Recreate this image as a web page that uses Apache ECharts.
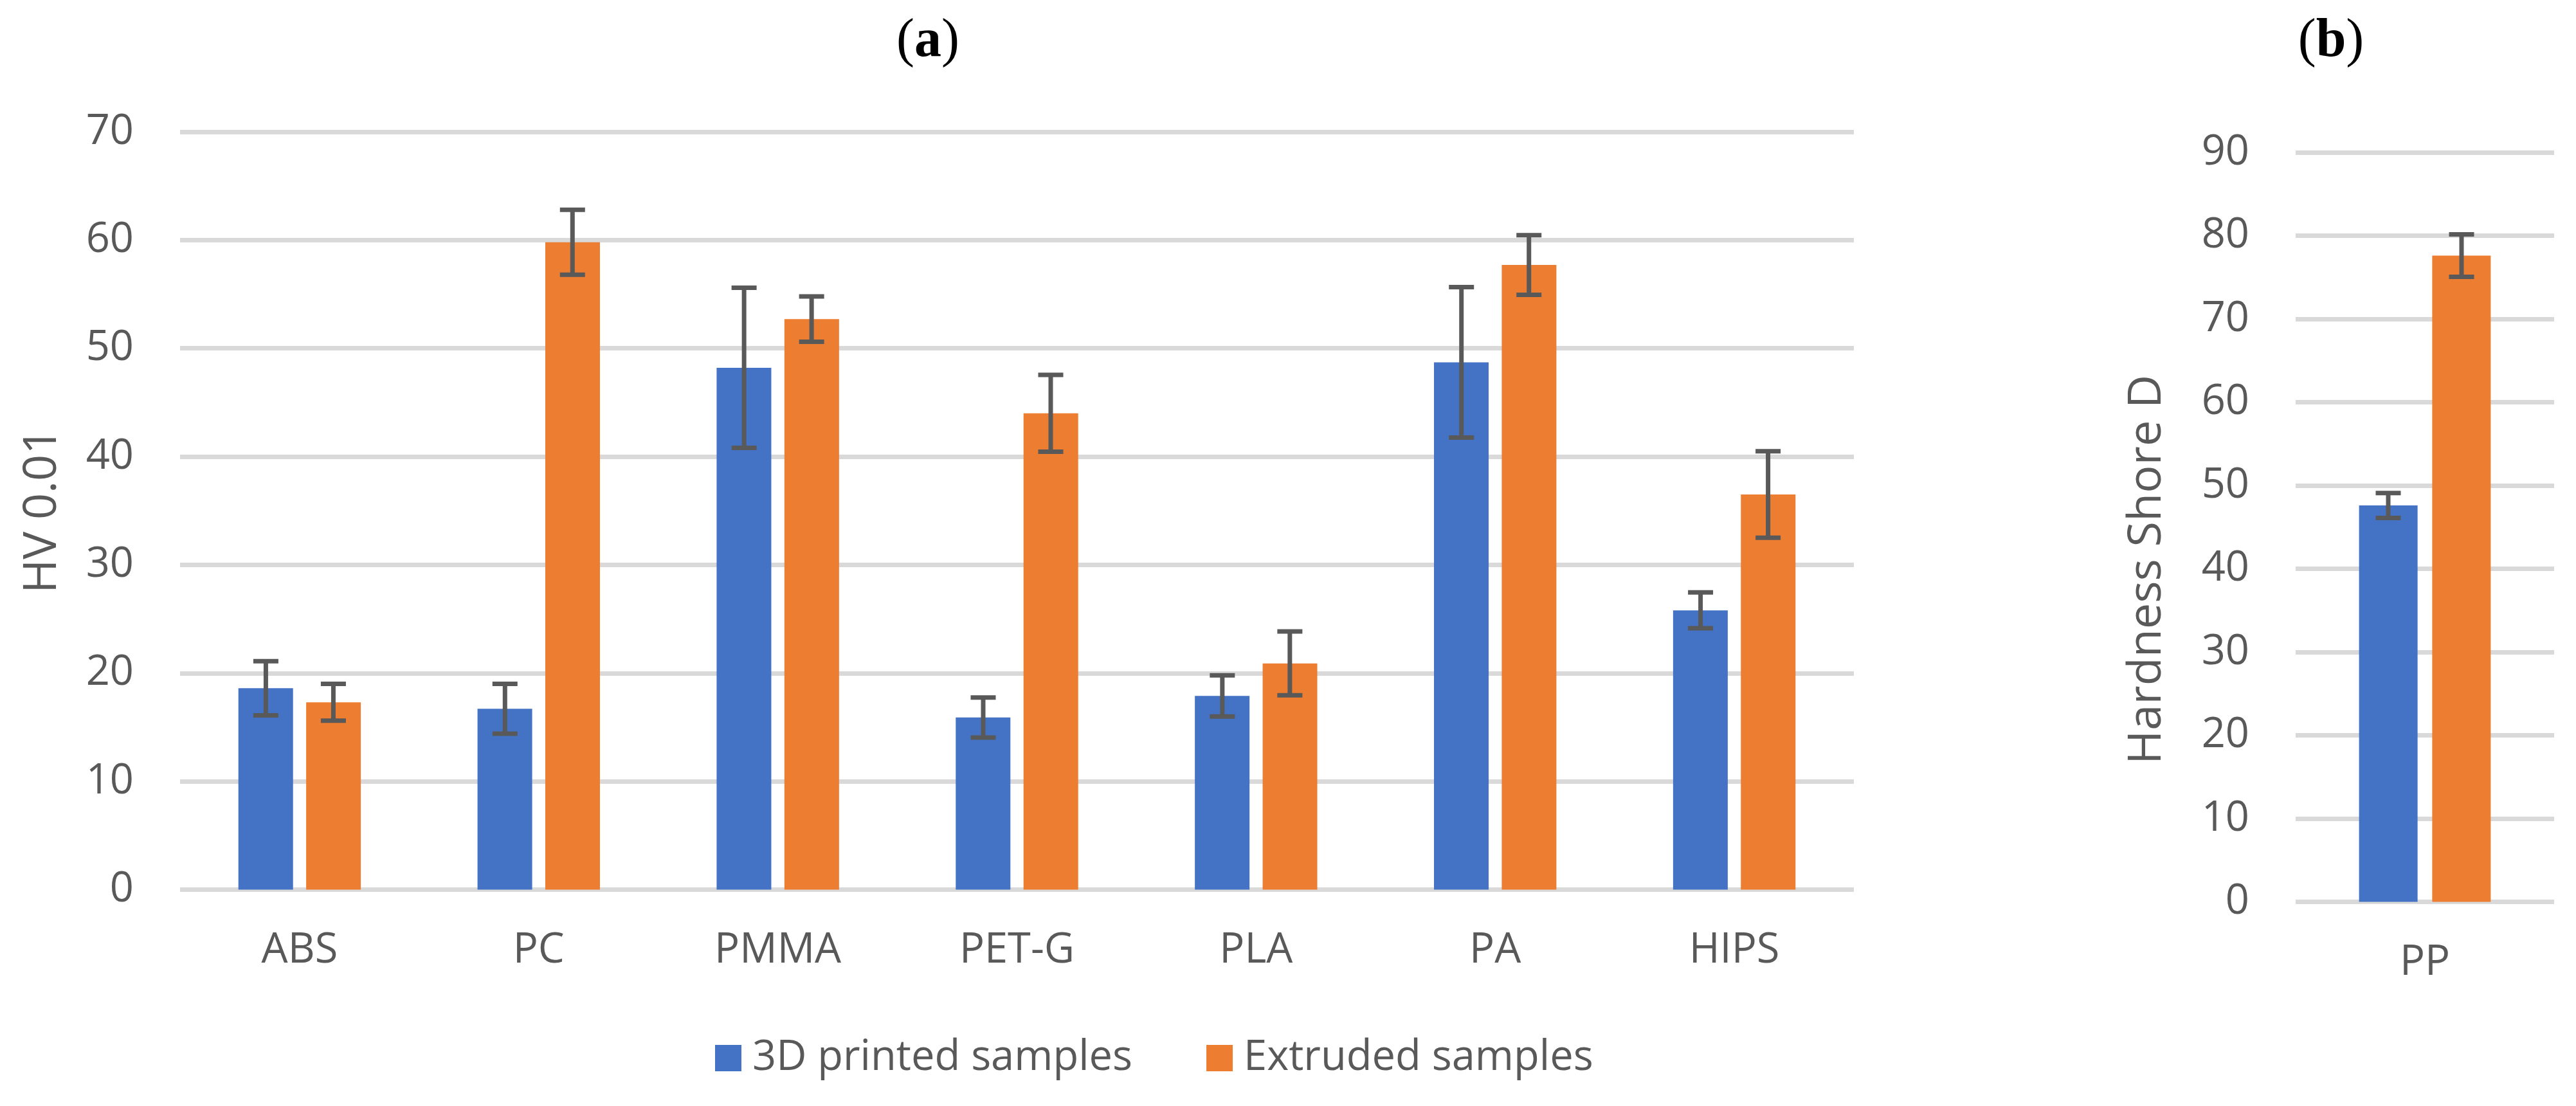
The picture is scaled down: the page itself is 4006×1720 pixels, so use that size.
<!DOCTYPE html>
<html>
<head>
<meta charset="utf-8">
<script src="https://cdn.jsdelivr.net/npm/echarts@6/dist/echarts.min.js"></script>
<style>
  html, body { margin: 0; padding: 0; background: #fff; }
  #chart { width: 4006px; height: 1720px; }
</style>
</head>
<body>
<div id="chart"></div>
<script>
// data
var materials = ['ABS', 'PC', 'PMMA', 'PET-G', 'PLA', 'PA', 'HIPS'];
var printedHV = [18.6, 16.7, 48.2, 15.9, 17.9, 48.7, 25.8];
var printedHVErr = [2.5, 2.3, 7.4, 1.85, 1.9, 6.95, 1.65];
var extrudedHV = [17.3, 59.8, 52.7, 44.0, 20.9, 57.7, 36.5];
var extrudedHVErr = [1.7, 3.0, 2.1, 3.55, 2.95, 2.75, 4.0];

var ppCategory = ['PP'];
var printedShore = [47.6];
var printedShoreErr = [1.5];
var extrudedShore = [77.6];
var extrudedShoreErr = [2.55];

var seriesNames = ['3D printed samples', 'Extruded samples'];
var blue = '#4472C4';
var orange = '#ED7D31';
var textColor = '#595959';
var gridColor = '#D9D9D9';
var font = 'Open Sans';

function errData(vals, errs) {
  var out = [];
  for (let i = 0; i < vals.length; i++) {
    out.push([i, vals[i] - errs[i], vals[i] + errs[i]]);
  }
  return out;
}

// draws an error bar, shifted sideways to sit on its bar
function errRender(offset) {
  return function (params, api) {
    var x = api.value(0);
    var lo = api.coord([x, api.value(1)]);
    var hi = api.coord([x, api.value(2)]);
    var cx = lo[0] + offset;
    var half = 19.5;
    var st = { stroke: textColor, lineWidth: 7 };
    return {
      type: 'group',
      children: [
        { type: 'line', shape: { x1: cx, y1: hi[1], x2: cx, y2: lo[1] }, style: st },
        { type: 'line', shape: { x1: cx - half, y1: hi[1], x2: cx + half, y2: hi[1] }, style: st },
        { type: 'line', shape: { x1: cx - half, y1: lo[1], x2: cx + half, y2: lo[1] }, style: st }
      ]
    };
  };
}

function valueAxis(gridIndex, max, name, namePad) {
  return {
    type: 'value',
    gridIndex: gridIndex,
    min: 0,
    max: max,
    interval: 10,
    name: name,
    nameLocation: 'middle',
    nameGap: gridIndex === 0 ? 178 : 195,
    nameTextStyle: { color: textColor, fontSize: 72, fontFamily: font, padding: namePad },
    axisLine: { show: false },
    axisTick: { show: false },
    axisLabel: { color: textColor, fontSize: 65, fontFamily: font, margin: 72 },
    splitLine: { show: true, lineStyle: { color: gridColor, width: 7 } }
  };
}

function catAxis(gridIndex, data) {
  return {
    type: 'category',
    gridIndex: gridIndex,
    data: data,
    axisLine: { show: false },
    axisTick: { show: false },
    axisLabel: { color: textColor, fontSize: 65, fontFamily: font, margin: 62, interval: 0 }
  };
}

var chart = echarts.init(document.getElementById('chart'), null, { renderer: 'canvas' });

var titleRich = {
  p: { fontFamily: 'Liberation Serif', fontSize: 84, color: '#000', fontWeight: 'normal' },
  b: { fontFamily: 'Liberation Serif', fontSize: 84, color: '#000', fontWeight: 'bold' }
};

var option = {
  backgroundColor: '#fff',
  animation: false,
  title: [
    { text: '{p|(}{b|a}{p|)}', left: 1438, top: 18, textAlign: 'center', textStyle: { rich: titleRich } },
    { text: '{p|(}{b|b}{p|)}', left: 3620, top: 18, textAlign: 'center', textStyle: { rich: titleRich } }
  ],
  legend: {
    data: seriesNames,
    left: 1107,
    top: 1608,
    itemWidth: 41,
    itemHeight: 41,
    itemGap: 115,
    icon: 'rect',
    textStyle: { color: textColor, fontSize: 65, fontFamily: font, padding: [0, 0, 0, 12] }
  },
  grid: [
    { left: 280, right: 4006 - 2883, top: 205, bottom: 1720 - 1383.5 },
    { left: 3570, right: 4006 - 3972, top: 237, bottom: 1720 - 1402.5 }
  ],
  xAxis: [catAxis(0, materials), catAxis(1, ppCategory)],
  yAxis: [valueAxis(0, 70, 'HV 0.01', [0, 0, 0, 0]), valueAxis(1, 90, 'Hardness Shore D', [0, 132, 0, 0])],
  series: [
    { name: seriesNames[0], type: 'bar', xAxisIndex: 0, yAxisIndex: 0, data: printedHV,
      barWidth: 85, barGap: '24%', itemStyle: { color: blue } },
    { name: seriesNames[1], type: 'bar', xAxisIndex: 0, yAxisIndex: 0, data: extrudedHV,
      barWidth: 85, barGap: '24%', itemStyle: { color: orange } },
    { name: seriesNames[0], type: 'bar', xAxisIndex: 1, yAxisIndex: 1, data: printedShore,
      barWidth: 91, barGap: '25%', itemStyle: { color: blue } },
    { name: seriesNames[1], type: 'bar', xAxisIndex: 1, yAxisIndex: 1, data: extrudedShore,
      barWidth: 91, barGap: '25%', itemStyle: { color: orange } },
    { name: 'err1', type: 'custom', xAxisIndex: 0, yAxisIndex: 0, z: 5,
      renderItem: errRender(-(85 + 20) / 2), encode: { x: 0, y: [1, 2] },
      data: errData(printedHV, printedHVErr) },
    { name: 'err2', type: 'custom', xAxisIndex: 0, yAxisIndex: 0, z: 5,
      renderItem: errRender((85 + 20) / 2), encode: { x: 0, y: [1, 2] },
      data: errData(extrudedHV, extrudedHVErr) },
    { name: 'err3', type: 'custom', xAxisIndex: 1, yAxisIndex: 1, z: 5,
      renderItem: errRender(-(91 + 23) / 2), encode: { x: 0, y: [1, 2] },
      data: errData(printedShore, printedShoreErr) },
    { name: 'err4', type: 'custom', xAxisIndex: 1, yAxisIndex: 1, z: 5,
      renderItem: errRender((91 + 23) / 2), encode: { x: 0, y: [1, 2] },
      data: errData(extrudedShore, extrudedShoreErr) }
  ]
};

chart.setOption(option);
</script>
</body>
</html>
